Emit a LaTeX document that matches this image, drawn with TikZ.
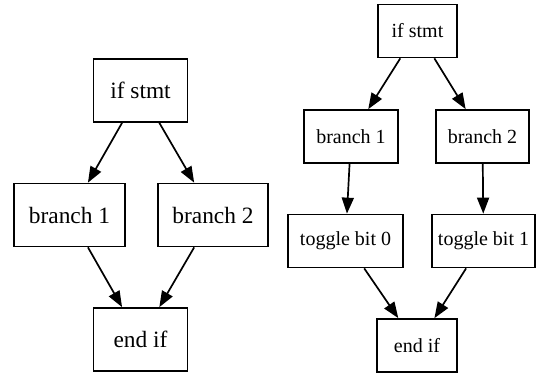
\documentclass[tikz,border=0pt]{standalone}
\usepackage{fontspec}
\setmainfont{Liberation Serif}
\usetikzlibrary{arrows.meta}

\begin{document}
\begin{tikzpicture}[x=0.5pt,y=-0.5pt,
  bigbox/.style={draw, line width=0.85pt, inner sep=0pt, minimum height=31.5pt, font=\fontsize{11.7}{14}\selectfont},
  smallbox/.style={draw, line width=0.85pt, inner sep=0pt, minimum height=26.5pt, font=\fontsize{10}{12}\selectfont},
  flow/.style={line width=0.85pt, -{Triangle[length=8pt,width=6pt]}}]
\useasboundingbox (0,0) rectangle (549,376);

% left: plain if
\node [bigbox, minimum width=47pt] (ifL) at (140.5,90.5) {if stmt};
\node [bigbox, minimum width=55.5pt] (brOneL) at (69.5,215) {branch 1};
\node [bigbox, minimum width=55pt] (brTwoL) at (213,215) {branch 2};
\node [bigbox, minimum width=47pt] (endL) at (140.5,339.5) {end if};
\draw [flow] (ifL) -- (brOneL);
\draw [flow] (ifL) -- (brTwoL);
\draw [flow] (brOneL) -- (endL);
\draw [flow] (brTwoL) -- (endL);

% right: with toggles
\node [smallbox, minimum width=39.5pt] (ifR) at (417.5,31) {if stmt};
\node [smallbox, minimum width=47pt] (brOneR) at (351,136.5) {branch 1};
\node [smallbox, minimum width=46.5pt] (brTwoR) at (482.5,136.5) {branch 2};
\node [smallbox, minimum width=57.5pt] (togZero) at (345.5,241) {toggle bit 0};
\node [smallbox, minimum width=51.5pt] (togOne) at (483.5,241) {toggle bit 1};
\node [smallbox, minimum width=40pt] (endR) at (417,345.5) {end if};
\draw [flow] (ifR) -- (brOneR);
\draw [flow] (ifR) -- (brTwoR);
\draw [flow] (brOneR) -- (togZero);
\draw [flow] (brTwoR) -- (togOne);
\draw [flow] (togZero) -- (endR);
\draw [flow] (togOne) -- (endR);
\end{tikzpicture}
\end{document}
